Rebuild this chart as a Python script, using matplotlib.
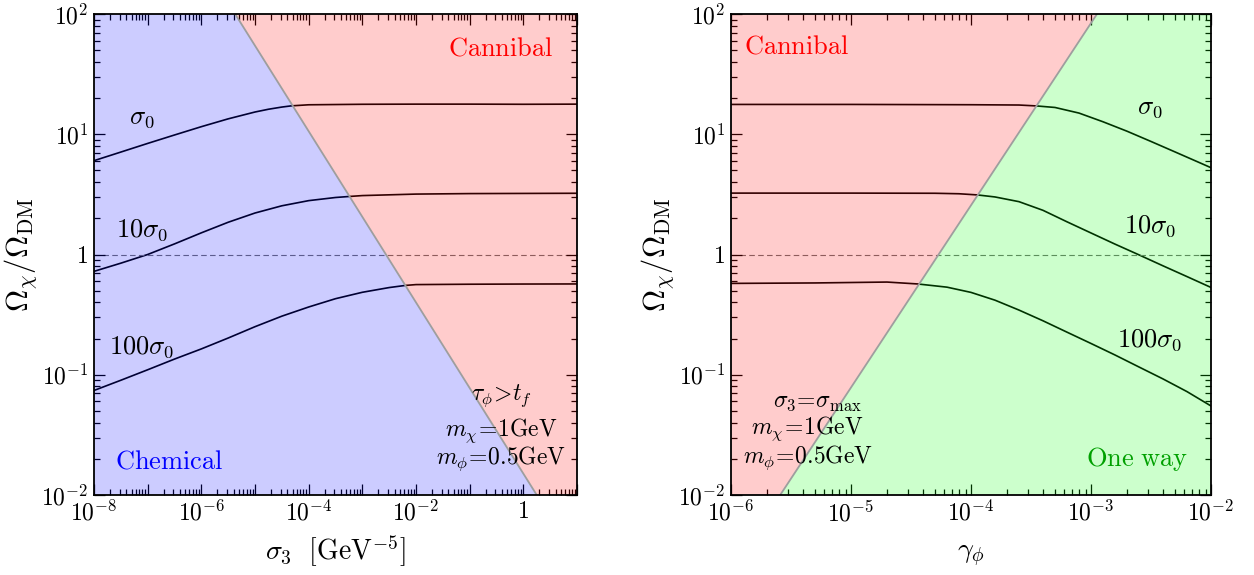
import numpy as np
import matplotlib
matplotlib.use("Agg")
import matplotlib.pyplot as plt
from matplotlib.ticker import FixedLocator, FixedFormatter, LogLocator, NullFormatter

plt.rcParams['mathtext.fontset'] = 'cm'
plt.rcParams['font.family'] = ['cmr10', 'DejaVu Serif']
plt.rcParams['axes.formatter.use_mathtext'] = True

# ---------------- data: left panel (sigma_3 scan), log10 of sigma_3 ----------------
left_logx_s0 = [-8, -7.5, -7, -6.5, -6, -5.5, -5, -4.75, -4.5, -4.325, -4, -3, -2, -1, 0, 1]
left_y_s0 = [6.03, 7.11, 8.39, 9.86, 11.56, 13.43, 15.31, 16.14, 16.83, 17.22, 17.58, 17.75, 17.8, 17.8, 17.75, 17.8]

left_logx_10s0 = [-8, -7.5, -7, -6.5, -6, -5.5, -5, -4.5, -4, -3.5, -3.26, -3, -2, -1, 0, 1]
left_y_10s0 = [0.724, 0.847, 1.0, 1.225, 1.514, 1.854, 2.213, 2.541, 2.805, 2.979, 3.034, 3.09, 3.18, 3.21, 3.22, 3.23]

left_logx_100s0 = [-8, -7.5, -7, -6.5, -6, -5.5, -5, -4.5, -4, -3.5, -3, -2.5, -2.2, -2, -1, 0, 1]
left_y_100s0 = [0.074, 0.090, 0.110, 0.135, 0.164, 0.202, 0.251, 0.307, 0.366, 0.429, 0.485, 0.531, 0.553, 0.562, 0.566, 0.568, 0.569]

left_boundary_logx = [-5.37, 0.25]
left_boundary_y = [1e2, 1e-2]

# ---------------- data: right panel (gamma_phi scan), log10 of gamma_phi ----------------
right_logx_s0 = [-6, -5, -4, -3.6, -3.455, -3.3, -3.1, -2.9, -2.7, -2.5, -2.3, -2.1, -2.0]
right_y_s0 = [17.7, 17.7, 17.6, 17.5, 17.2, 16.7, 15.0, 12.7, 10.6, 8.71, 7.13, 5.83, 5.27]

right_logx_10s0 = [-6, -5, -4.3, -4.1, -3.948, -3.8, -3.6, -3.4, -3.2, -3.0, -2.8, -2.6, -2.4, -2.2, -2.0]
right_y_10s0 = [3.24, 3.24, 3.23, 3.2, 3.13, 3.01, 2.75, 2.33, 1.87, 1.51, 1.22, 0.993, 0.805, 0.655, 0.532]

right_logx_100s0 = [-6, -5.3, -4.7, -4.445, -4.2, -4.0, -3.8, -3.6, -3.4, -3.2, -3.0, -2.8, -2.6, -2.4, -2.2, -2.0]
right_y_100s0 = [0.575, 0.58, 0.59, 0.569, 0.535, 0.484, 0.417, 0.345, 0.281, 0.226, 0.182, 0.146, 0.116, 0.0923, 0.0724, 0.055]

right_boundary_logx = [-5.59, -2.95]
right_boundary_y = [1e-2, 1e2]

# ---------------- ticks ----------------
y_ticks = [1e-2, 1e-1, 1e0, 1e1, 1e2]
y_ticklabels = [r'$10^{-2}$', r'$10^{-1}$', r'$1$', r'$10^{1}$', r'$10^{2}$']
left_x_ticks = [10.0**k for k in range(-8, 2)]
left_x_ticklabels = [r'$10^{-8}$', '', r'$10^{-6}$', '', r'$10^{-4}$', '', r'$10^{-2}$', '', r'$1$', '']
right_x_ticks = [1e-6, 1e-5, 1e-4, 1e-3, 1e-2]
right_x_ticklabels = [r'$10^{-6}$', r'$10^{-5}$', r'$10^{-4}$', r'$10^{-3}$', r'$10^{-2}$']


def p10(v):
    return [10.0 ** t for t in v]


W, H = 1254, 575
fig = plt.figure(figsize=(W / 100, H / 100), dpi=100)
ax1 = fig.add_axes([94 / W, 1 - 495 / H, (577 - 94) / W, (495 - 14) / H])
ax2 = fig.add_axes([731 / W, 1 - 495 / H, (1211 - 731) / W, (495 - 14) / H])

BLUE = (0, 0, 1)
RED = (1, 0, 0)
GREEN = (0, 1, 0)
ALPHA = 0.2
LW = 1.2


def style(ax, xlim, xt, xtl):
    ax.set_xscale('log')
    ax.set_yscale('log')
    ax.set_xlim(*xlim)
    ax.set_ylim(1e-2, 1e2)
    ax.xaxis.set_major_locator(FixedLocator(xt))
    ax.xaxis.set_major_formatter(FixedFormatter(xtl))
    ax.yaxis.set_major_locator(FixedLocator(y_ticks))
    ax.yaxis.set_major_formatter(FixedFormatter(y_ticklabels))
    ax.xaxis.set_minor_locator(LogLocator(base=10, subs=np.arange(2, 10), numticks=50))
    ax.yaxis.set_minor_locator(LogLocator(base=10, subs=np.arange(2, 10), numticks=50))
    ax.xaxis.set_minor_formatter(NullFormatter())
    ax.yaxis.set_minor_formatter(NullFormatter())
    ax.tick_params(which='both', direction='in', top=True, right=True, labelsize=17, width=0.9)
    ax.tick_params(which='major', length=8, pad=4)
    ax.tick_params(which='minor', length=4)
    for s in ax.spines.values():
        s.set_linewidth(1.3)
        s.set_zorder(5)


fs = 19
fs_small = 17

# ---------- left panel ----------
style(ax1, (1e-8, 1e1), left_x_ticks, left_x_ticklabels)
for lx, ys in [(left_logx_s0, left_y_s0), (left_logx_10s0, left_y_10s0), (left_logx_100s0, left_y_100s0)]:
    ax1.plot(p10(lx), ys, color='black', lw=LW, zorder=1)
ax1.axhline(1.0, color='0.45', lw=0.8, ls=(0, (5, 3)), zorder=1)
bx0, bx1 = p10(left_boundary_logx)
ax1.fill([1e-8, 1e-8, bx0, bx1], [1e-2, 1e2, 1e2, 1e-2], color=BLUE, alpha=ALPHA, lw=0, zorder=2)
ax1.fill([bx0, 1e1, 1e1, bx1], [1e2, 1e2, 1e-2, 1e-2], color=RED, alpha=ALPHA, lw=0, zorder=2)
ax1.plot([bx0, bx1], left_boundary_y, color='0.62', lw=1.3, zorder=3)

ax1.text(0.099, 0.784, r'$\sigma_0$', transform=ax1.transAxes, fontsize=fs, ha='center', va='center', zorder=6)
ax1.text(0.099, 0.551, r'$10\sigma_0$', transform=ax1.transAxes, fontsize=fs, ha='center', va='center', zorder=6)
ax1.text(0.099, 0.308, r'$100\sigma_0$', transform=ax1.transAxes, fontsize=fs, ha='center', va='center', zorder=6)
ax1.text(0.843, 0.929, r'$\mathrm{Cannibal}$', transform=ax1.transAxes, fontsize=fs, color='red', ha='center', va='center', zorder=6)
ax1.text(0.155, 0.069, r'$\mathrm{Chemical}$', transform=ax1.transAxes, fontsize=fs, color='blue', ha='center', va='center', zorder=6)
ax1.text(0.843, 0.206, r'$\tau_\phi\!>\!t_f$', transform=ax1.transAxes, fontsize=fs_small, ha='center', va='center', zorder=6)
ax1.text(0.843, 0.133, r'$m_\chi\!=\!1\mathrm{GeV}$', transform=ax1.transAxes, fontsize=fs_small, ha='center', va='center', zorder=6)
ax1.text(0.843, 0.075, r'$m_\phi\!=\!0.5\mathrm{GeV}$', transform=ax1.transAxes, fontsize=fs_small, ha='center', va='center', zorder=6)
ax1.set_xlabel(r'$\sigma_3\ \ [\mathrm{GeV}^{-5}]$', fontsize=20, labelpad=6)
ax1.set_ylabel(r'$\Omega_\chi/\Omega_{\mathrm{DM}}$', fontsize=22, labelpad=2)

# ---------- right panel ----------
style(ax2, (1e-6, 1e-2), right_x_ticks, right_x_ticklabels)
for lx, ys in [(right_logx_s0, right_y_s0), (right_logx_10s0, right_y_10s0), (right_logx_100s0, right_y_100s0)]:
    ax2.plot(p10(lx), ys, color='black', lw=LW, zorder=1)
ax2.axhline(1.0, color='0.45', lw=0.8, ls=(0, (5, 3)), zorder=1)
rb0, rb1 = p10(right_boundary_logx)
ax2.fill([1e-6, 1e-6, rb1, rb0], [1e-2, 1e2, 1e2, 1e-2], color=RED, alpha=ALPHA, lw=0, zorder=2)
ax2.fill([rb0, rb1, 1e-2, 1e-2], [1e-2, 1e2, 1e2, 1e-2], color=GREEN, alpha=ALPHA, lw=0, zorder=2)
ax2.plot([rb0, rb1], right_boundary_y, color='0.62', lw=1.3, zorder=3)

ax2.text(0.1375, 0.933, r'$\mathrm{Cannibal}$', transform=ax2.transAxes, fontsize=fs, color='red', ha='center', va='center', zorder=6)
ax2.text(0.873, 0.805, r'$\sigma_0$', transform=ax2.transAxes, fontsize=fs, ha='center', va='center', zorder=6)
ax2.text(0.873, 0.559, r'$10\sigma_0$', transform=ax2.transAxes, fontsize=fs, ha='center', va='center', zorder=6)
ax2.text(0.873, 0.322, r'$100\sigma_0$', transform=ax2.transAxes, fontsize=fs, ha='center', va='center', zorder=6)
ax2.text(0.181, 0.193, r'$\sigma_3\!=\!\sigma_{\mathrm{max}}$', transform=ax2.transAxes, fontsize=fs_small, ha='center', va='center', zorder=6)
ax2.text(0.158, 0.137, r'$m_\chi\!=\!1\mathrm{GeV}$', transform=ax2.transAxes, fontsize=fs_small, ha='center', va='center', zorder=6)
ax2.text(0.160, 0.077, r'$m_\phi\!=\!0.5\mathrm{GeV}$', transform=ax2.transAxes, fontsize=fs_small, ha='center', va='center', zorder=6)
ax2.text(0.846, 0.075, r'$\mathrm{One\ way}$', transform=ax2.transAxes, fontsize=fs, color='#00A000', ha='center', va='center', zorder=6)
ax2.set_xlabel(r'$\gamma_\phi$', fontsize=20, labelpad=12)
ax2.set_ylabel(r'$\Omega_\chi/\Omega_{\mathrm{DM}}$', fontsize=22, labelpad=2)

fig.savefig('out.png', dpi=100)
